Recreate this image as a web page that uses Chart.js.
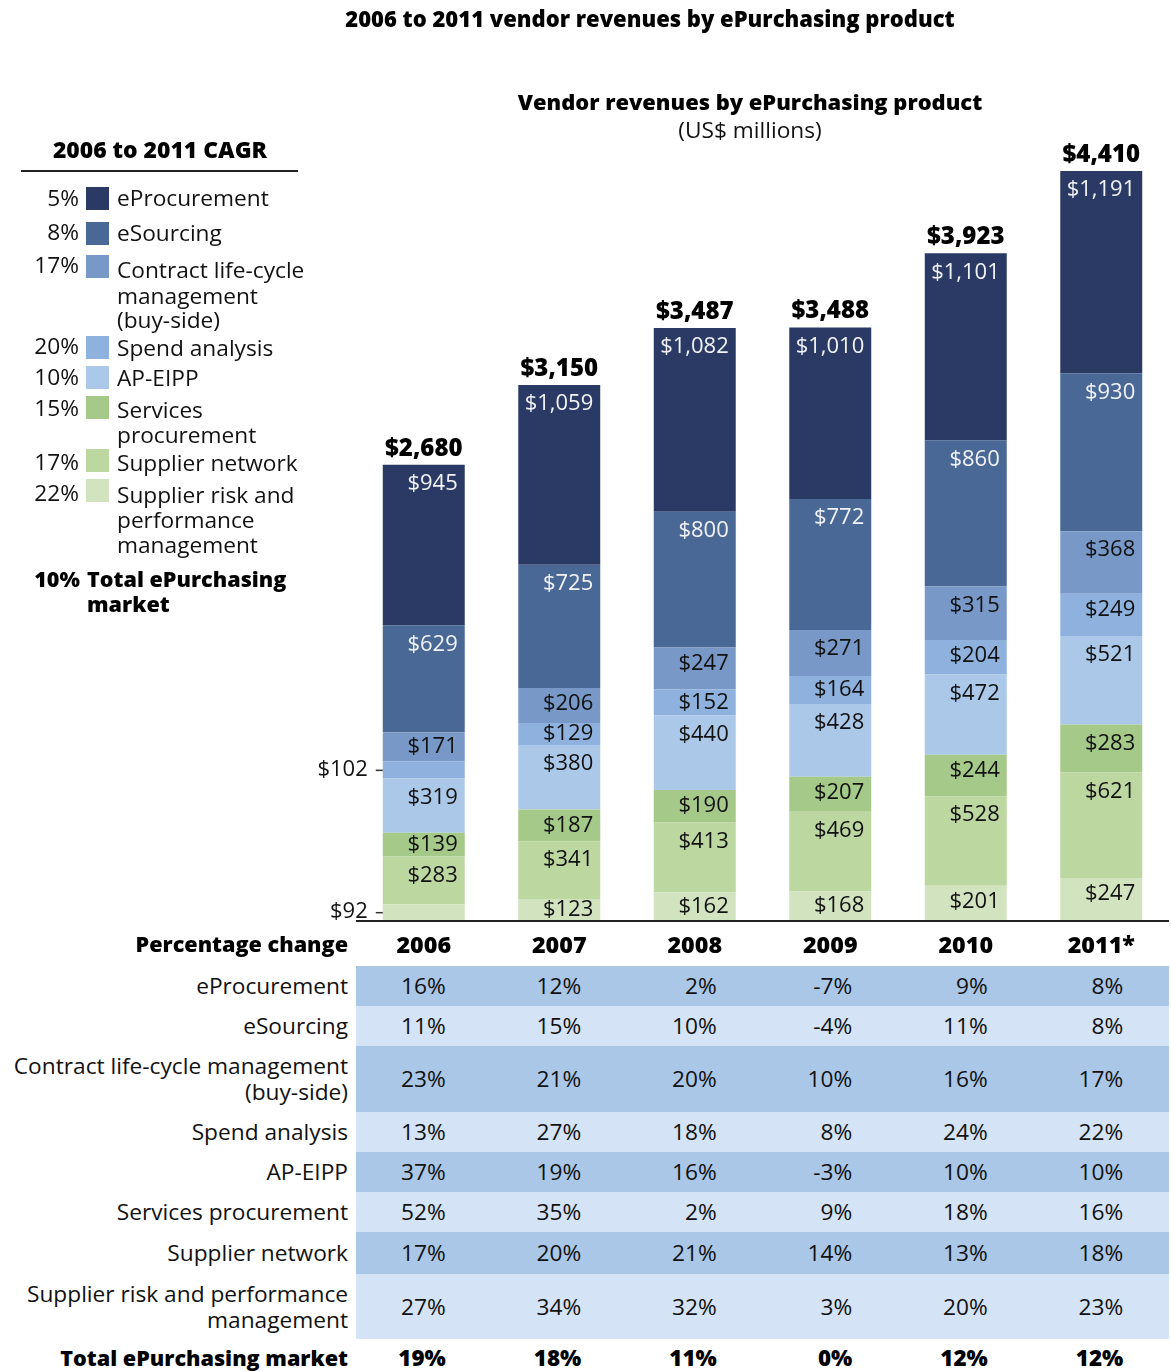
<!DOCTYPE html>
<html><head><meta charset="utf-8">
<script src="https://cdn.jsdelivr.net/npm/chart.js@4/dist/chart.umd.min.js"></script>
<style>
html,body{margin:0;padding:0}
body{width:1171px;height:1371px;position:relative;background:#fff;font-family:"Open Sans",sans-serif;color:#111;overflow:hidden}
.t{position:absolute;white-space:nowrap;line-height:28px;height:28px;font-size:22.7px}
.b{font-weight:800;font-size:21.6px;color:#000}
.band{position:absolute}
.sw{position:absolute;width:23px;height:23px}
</style></head><body>
<canvas id="c" width="1171" height="930" style="position:absolute;left:0;top:0;width:1171px;height:930px"></canvas>
<div id="ov"></div>
<script>
// ---- data ----
const years = ['2006','2007','2008','2009','2010','2011*'];
const eProcurement    = [945, 1059, 1082, 1010, 1101, 1191];
const eSourcing       = [629, 725, 800, 772, 860, 930];
const contractLCM     = [171, 206, 247, 271, 315, 368];
const spendAnalysis   = [102, 129, 152, 164, 204, 249];
const apEipp          = [319, 380, 440, 428, 472, 521];
const servicesProc    = [139, 187, 190, 207, 244, 283];
const supplierNetwork = [283, 341, 413, 469, 528, 621];
const supplierRisk    = [92, 123, 162, 168, 201, 247];
const totals          = [2680, 3150, 3487, 3488, 3923, 4410];

const cagrLabels = ['5%','8%','17%','20%','10%','15%','17%','22%'];
const cagrTotal = '10%';

const pctEProcurement    = ['16%','12%','2%','-7%','9%','8%'];
const pctESourcing       = ['11%','15%','10%','-4%','11%','8%'];
const pctContractLCM     = ['23%','21%','20%','10%','16%','17%'];
const pctSpendAnalysis   = ['13%','27%','18%','8%','24%','22%'];
const pctApEipp          = ['37%','19%','16%','-3%','10%','10%'];
const pctServicesProc    = ['52%','35%','2%','9%','18%','16%'];
const pctSupplierNetwork = ['17%','20%','21%','14%','13%','18%'];
const pctSupplierRisk    = ['27%','34%','32%','3%','20%','23%'];
const pctTotal           = ['19%','18%','11%','0%','12%','12%'];

// ---- styles ----
const colors = {
  eP:'#2b3a64', eS:'#496896', clm:'#7898c8', sa:'#8eb1de',
  ap:'#abc8e9', sp:'#a5c988', sn:'#bcd7a0', srp:'#d2e4bf'
};

// datasets bottom -> top
const datasets = [
  {label:'Supplier risk and performance management', data:supplierRisk, backgroundColor:colors.srp, _light:false},
  {label:'Supplier network', data:supplierNetwork, backgroundColor:colors.sn, _light:false},
  {label:'Services procurement', data:servicesProc, backgroundColor:colors.sp, _light:false},
  {label:'AP-EIPP', data:apEipp, backgroundColor:colors.ap, _light:false},
  {label:'Spend analysis', data:spendAnalysis, backgroundColor:colors.sa, _light:false},
  {label:'Contract life-cycle management (buy-side)', data:contractLCM, backgroundColor:colors.clm, _light:false},
  {label:'eSourcing', data:eSourcing, backgroundColor:colors.eS, _light:true},
  {label:'eProcurement', data:eProcurement, backgroundColor:colors.eP, _light:true}
];
datasets.forEach(d=>{d.borderWidth=0; d.barPercentage=0.605; d.categoryPercentage=1;});

const FONT = '"Open Sans", sans-serif';
function fmt(v){return '$'+v.toLocaleString('en-US');}

const labelPlugin = {
  id:'labels',
  afterDatasetsDraw(chart){
    const ctx = chart.ctx;
    ctx.save();
    ctx.textBaseline='middle';
    ctx.font = '22px '+FONT;
    chart.data.datasets.forEach((ds,di)=>{
      const meta = chart.getDatasetMeta(di);
      meta.data.forEach((el,j)=>{
        const top = Math.min(el.y, el.base), bot = Math.max(el.y, el.base);
        const h = bot-top;
        const right = el.x + el.width/2;
        const left = el.x - el.width/2;
        const txt = fmt(ds.data[j]);
        if (j===0 && (di===0 || di===4)) {
          // small 2006 segments labelled outside with a tick
          const cy = (top+bot)/2;
          ctx.fillStyle='#111';
          ctx.textAlign='right';
          ctx.fillText(txt, left-15, cy);
          ctx.strokeStyle='#333'; ctx.lineWidth=1.5;
          ctx.beginPath(); ctx.moveTo(left-7, cy+0.5); ctx.lineTo(left, cy+0.5); ctx.stroke();
          return;
        }
        const cy = top + (h >= 45 ? 19 : Math.min(16, h/2));
        ctx.fillStyle = ds._light ? '#f2f3f8' : '#111';
        ctx.textAlign='right';
        ctx.fillText(txt, right-7, cy);
      });
    });
    // totals
    const topMeta = chart.getDatasetMeta(chart.data.datasets.length-1);
    ctx.font = '800 24px '+FONT;
    ctx.fillStyle='#000';
    ctx.textAlign='center';
    topMeta.data.forEach((el,j)=>{
      ctx.fillText(fmt(totals[j]), el.x, el.y-16);
    });
    // baseline
    const ys = chart.scales.y, xs = chart.scales.x;
    const y0 = ys.getPixelForValue(0);
    ctx.strokeStyle='#222'; ctx.lineWidth=2;
    ctx.beginPath(); ctx.moveTo(xs.left, y0+1); ctx.lineTo(xs.right, y0+1); ctx.stroke();
    ctx.restore();
  }
};

const chart = new Chart(document.getElementById('c'), {
  type:'bar',
  data:{labels:years, datasets},
  options:{
    responsive:false, animation:false, maintainAspectRatio:false,
    layout:{padding:{left:356, right:2, top:171, bottom:10}},
    plugins:{legend:{display:false}, tooltip:{enabled:false}, title:{display:false}},
    scales:{
      x:{stacked:true, display:false},
      y:{stacked:true, display:false, min:0, max:4410}
    }
  },
  plugins:[labelPlugin]
});

// ---- HTML text overlays ----
const ov = document.getElementById('ov');
function txt(s, x, cy, align, cls, size){
  const d = document.createElement('div');
  d.className = 't' + (cls?' '+cls:'');
  d.textContent = s;
  d.style.top = (cy-14)+'px';
  if(size) d.style.fontSize = size+'px';
  if(align==='right'){ d.style.right = (1171-x)+'px'; d.style.textAlign='right'; }
  else if(align==='center'){ d.style.left = x+'px'; d.style.transform='translateX(-50%)'; }
  else { d.style.left = x+'px'; }
  ov.appendChild(d);
  return d;
}
function box(x,y,w,h,c,cls){
  const d=document.createElement('div'); d.className=cls||'band';
  d.style.left=x+'px'; d.style.top=y+'px'; d.style.width=w+'px'; d.style.height=h+'px'; d.style.background=c;
  ov.appendChild(d);
}

// titles
txt('2006 to 2011 vendor revenues by ePurchasing product', 650, 18, 'center', 'b', 22);
txt('Vendor revenues by ePurchasing product', 750, 102, 'center', 'b', 21.9);
txt('(US$ millions)', 750, 130, 'center');

// legend
txt('2006 to 2011 CAGR', 160, 150, 'center', 'b', 22.9);
box(21,170,277,1.5,'#222');
const legendItems = [
  {lines:['eProcurement'], c:colors.eP, sw:187, ty:[198], py:198},
  {lines:['eSourcing'], c:colors.eS, sw:222, ty:[233], py:232},
  {lines:['Contract life-cycle','management','(buy-side)'], c:colors.clm, sw:255, ty:[270,296,320], py:265},
  {lines:['Spend analysis'], c:colors.sa, sw:336, ty:[348], py:346},
  {lines:['AP-EIPP'], c:colors.ap, sw:366, ty:[378], py:377},
  {lines:['Services','procurement'], c:colors.sp, sw:396, ty:[410,435], py:408},
  {lines:['Supplier network'], c:colors.sn, sw:449, ty:[463], py:462},
  {lines:['Supplier risk and','performance','management'], c:colors.srp, sw:479, ty:[495,520,545], py:493}
];
legendItems.forEach((it,i)=>{
  txt(cagrLabels[i], 79, it.py, 'right');
  box(86, it.sw, 23, 23, it.c, 'sw');
  it.lines.forEach((l,k)=>txt(l, 117, it.ty[k], 'left'));
});
txt(cagrTotal, 80, 579, 'right', 'b');
txt('Total ePurchasing', 87, 579, 'left', 'b');
txt('market', 87, 604, 'left', 'b');

// table
const xs = chart.scales.x;
const tLeft = xs.left, tRight = xs.right;
const colX = years.map((_,i)=>xs.getPixelForValue(i));
txt('Percentage change', 348, 944, 'right', 'b');
years.forEach((y,i)=>txt(y, colX[i], 944, 'center', 'b', 23.3));
const rows = [
  {lines:['eProcurement'], vals:pctEProcurement, top:966, bot:1006, c:'#aac7e8'},
  {lines:['eSourcing'], vals:pctESourcing, top:1006, bot:1046, c:'#d4e3f5'},
  {lines:['Contract life-cycle management','(buy-side)'], vals:pctContractLCM, top:1046, bot:1112, c:'#aac7e8'},
  {lines:['Spend analysis'], vals:pctSpendAnalysis, top:1112, bot:1152, c:'#d4e3f5'},
  {lines:['AP-EIPP'], vals:pctApEipp, top:1152, bot:1192, c:'#aac7e8'},
  {lines:['Services procurement'], vals:pctServicesProc, top:1192, bot:1232, c:'#d4e3f5'},
  {lines:['Supplier network'], vals:pctSupplierNetwork, top:1232, bot:1274, c:'#aac7e8'},
  {lines:['Supplier risk and performance','management'], vals:pctSupplierRisk, top:1274, bot:1339, c:'#d4e3f5'}
];
rows.forEach(r=>{
  box(tLeft, r.top, tRight-tLeft, r.bot-r.top, r.c);
  const cy = (r.top+r.bot)/2;
  if(r.lines.length===1) txt(r.lines[0], 348, cy, 'right');
  else { txt(r.lines[0], 348, cy-13, 'right'); txt(r.lines[1], 348, cy+13, 'right'); }
  r.vals.forEach((v,i)=>txt(v, colX[i]+22, cy, 'right'));
});
txt('Total ePurchasing market', 348, 1358, 'right', 'b');
pctTotal.forEach((v,i)=>txt(v, colX[i]+22, 1358, 'right', 'b', 22.4));
</script>
</body></html>
